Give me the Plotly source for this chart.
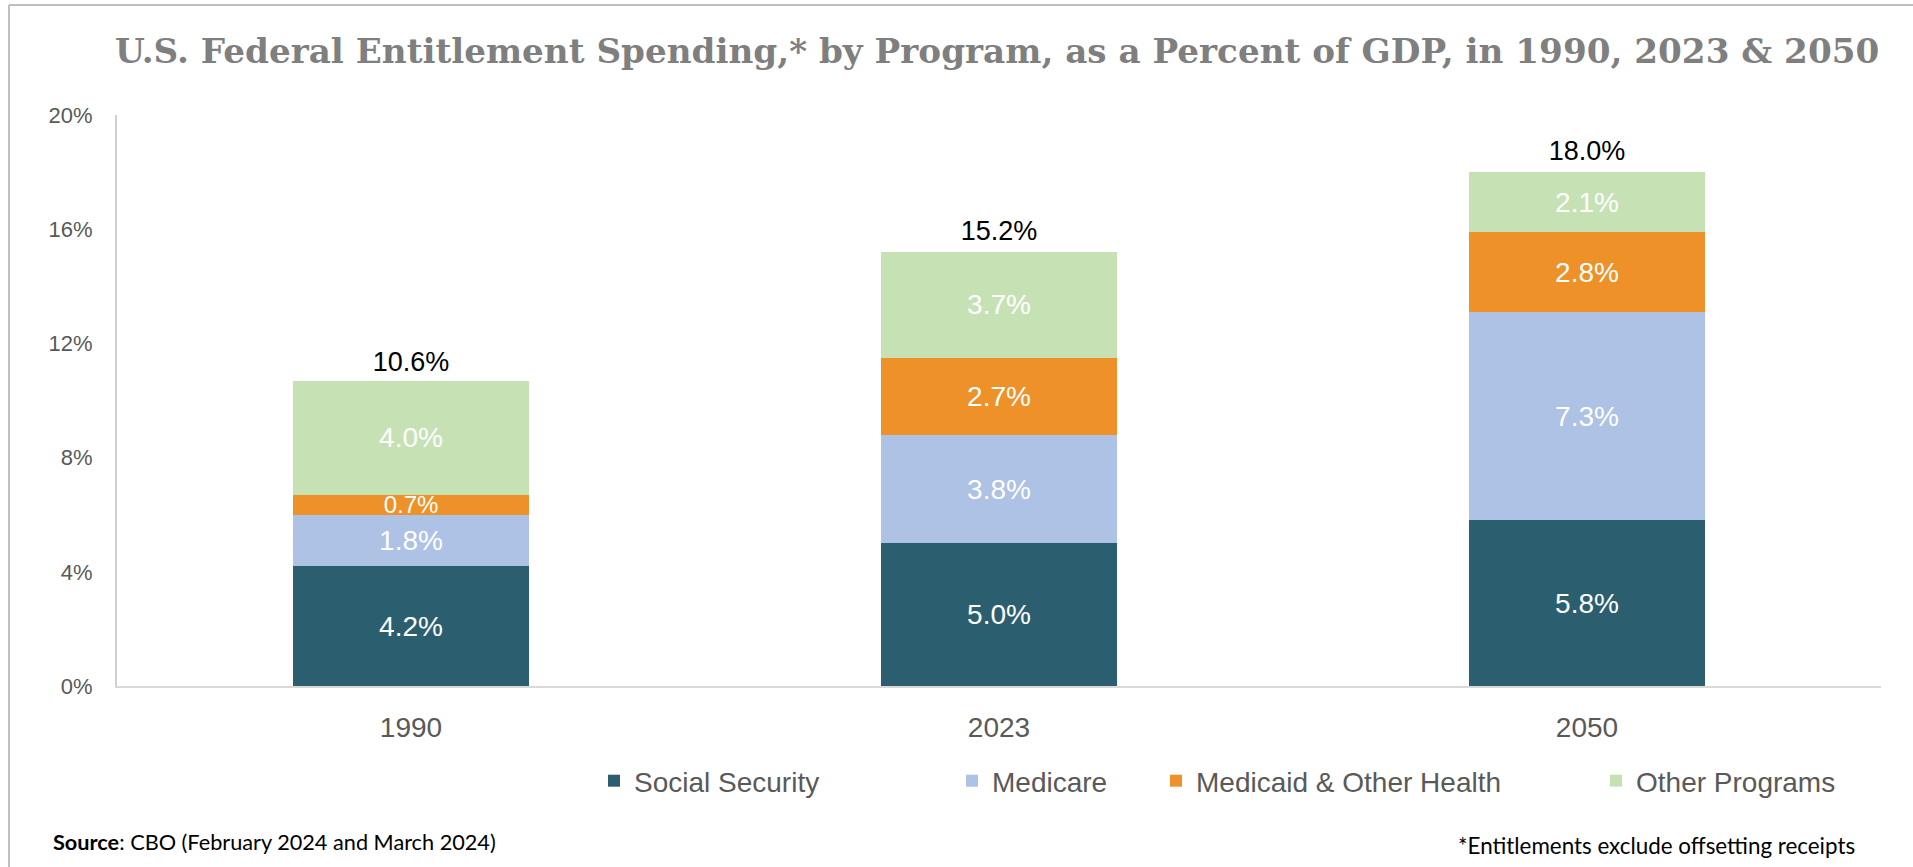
import plotly.graph_objects as go

# ---- data (percent of GDP) ----
years = ["1990", "2023", "2050"]
social_security = [4.2, 5.0, 5.8]
medicare = [1.8, 3.8, 7.3]
medicaid_other_health = [0.7, 2.7, 2.8]
other_programs = [4.0, 3.7, 2.1]
totals = [10.6, 15.2, 18.0]
y_ticks = [0, 4, 8, 12, 16, 20]

# ---- canvas geometry (pixels) ----
W, H = 1913, 867
L, R, T, B = 117, 32, 115, 181
PW, PH = W - L - R, H - T - B


def fx(px):
    """pixel x -> paper x"""
    return (px - L) / PW


def fy(py):
    """pixel y (from top) -> paper y"""
    return (H - B - py) / PH


SANS = "Liberation Sans, Arial, sans-serif"
GREY_TXT = "#595959"

series = [
    ("Social Security", social_security, "#2b5f70", 614, [28, 28, 28]),
    ("Medicare", medicare, "#adc2e4", 972, [28, 28, 28]),
    ("Medicaid & Other Health", medicaid_other_health, "#ed9128", 1176, [24, 28, 28]),
    ("Other Programs", other_programs, "#c6e2b5", 1616, [28, 28, 28]),
]

fig = go.Figure()
legend_ids = ["legend", "legend2", "legend3", "legend4"]

for (name, vals, color, _, sizes), lid in zip(series, legend_ids):
    fig.add_trace(go.Bar(
        x=years, y=vals, name=name,
        marker=dict(color=color, line=dict(width=0)),
        text=[f"{v:.1f}%" for v in vals],
        textposition="inside", insidetextanchor="middle",
        constraintext="none", textangle=0,
        textfont=dict(family=SANS, size=sizes, color="white"),
        legend=lid, hoverinfo="skip",
    ))

# stack totals above each bar (invisible marker lifts the text a little)
fig.add_trace(go.Scatter(
    x=years, y=totals, mode="markers+text",
    marker=dict(size=7, opacity=0),
    text=[f"{t:.1f}%" for t in totals],
    textposition="top center",
    textfont=dict(family=SANS, size=27, color="black"),
    showlegend=False, hoverinfo="skip",
))

legend_layout = {}
for (name, _, _, cx, _), lid in zip(series, legend_ids):
    legend_layout[lid] = dict(
        x=fx(cx - 20), y=fy(781), xanchor="left", yanchor="middle",
        orientation="h", bgcolor="rgba(0,0,0,0)",
        font=dict(family=SANS, size=28, color=GREY_TXT),
        itemwidth=30, traceorder="normal",
    )

frame = dict(color="#bfbfbf", width=2)

fig.update_layout(
    width=W, height=H,
    margin=dict(l=L, r=R, t=T, b=B, autoexpand=False),
    paper_bgcolor="white", plot_bgcolor="white",
    barmode="stack", bargap=0.6,
    xaxis=dict(
        showline=True, linecolor="#d9d9d9", linewidth=2,
        ticks="", showgrid=False, zeroline=False,
        tickfont=dict(family=SANS, size=28, color=GREY_TXT),
        ticklabelstandoff=15,
    ),
    yaxis=dict(
        range=[0, 20], tickvals=y_ticks,
        ticktext=[f"{v}%" for v in y_ticks],
        showline=True, linecolor="#d0d0d0", linewidth=2,
        ticks="", showgrid=False, zeroline=False,
        tickfont=dict(family=SANS, size=22, color=GREY_TXT),
        ticklabelstandoff=18,
    ),
    shapes=[
        dict(type="line", xref="paper", yref="paper",
             x0=fx(9), x1=fx(W), y0=fy(5), y1=fy(5), line=frame),
        dict(type="line", xref="paper", yref="paper",
             x0=fx(9), x1=fx(9), y0=fy(5), y1=fy(H), line=frame),
    ],
    annotations=[
        dict(text="U.S. Federal Entitlement Spending,* by Program, as a Percent of GDP, in 1990, 2023 & 2050",
             xref="paper", yref="paper", x=fx(997), y=fy(51),
             xanchor="center", yanchor="middle", showarrow=False,
             font=dict(family="DejaVu Serif, serif", size=34.2, color="#7f7f7f", weight="bold")),
        dict(text="<b>Source</b>: CBO (February 2024 and March 2024)",
             xref="paper", yref="paper", x=fx(51), y=fy(842),
             xanchor="left", yanchor="middle", showarrow=False,
             font=dict(family="Lato, sans-serif", size=21.7, color="black")),
        dict(text="*Entitlements exclude offsetting receipts",
             xref="paper", yref="paper", x=fx(1857), y=fy(845),
             xanchor="right", yanchor="middle", showarrow=False,
             font=dict(family="Lato, sans-serif", size=22.4, color="black")),
    ],
    **legend_layout,
)

fig.write_html("out.html")
